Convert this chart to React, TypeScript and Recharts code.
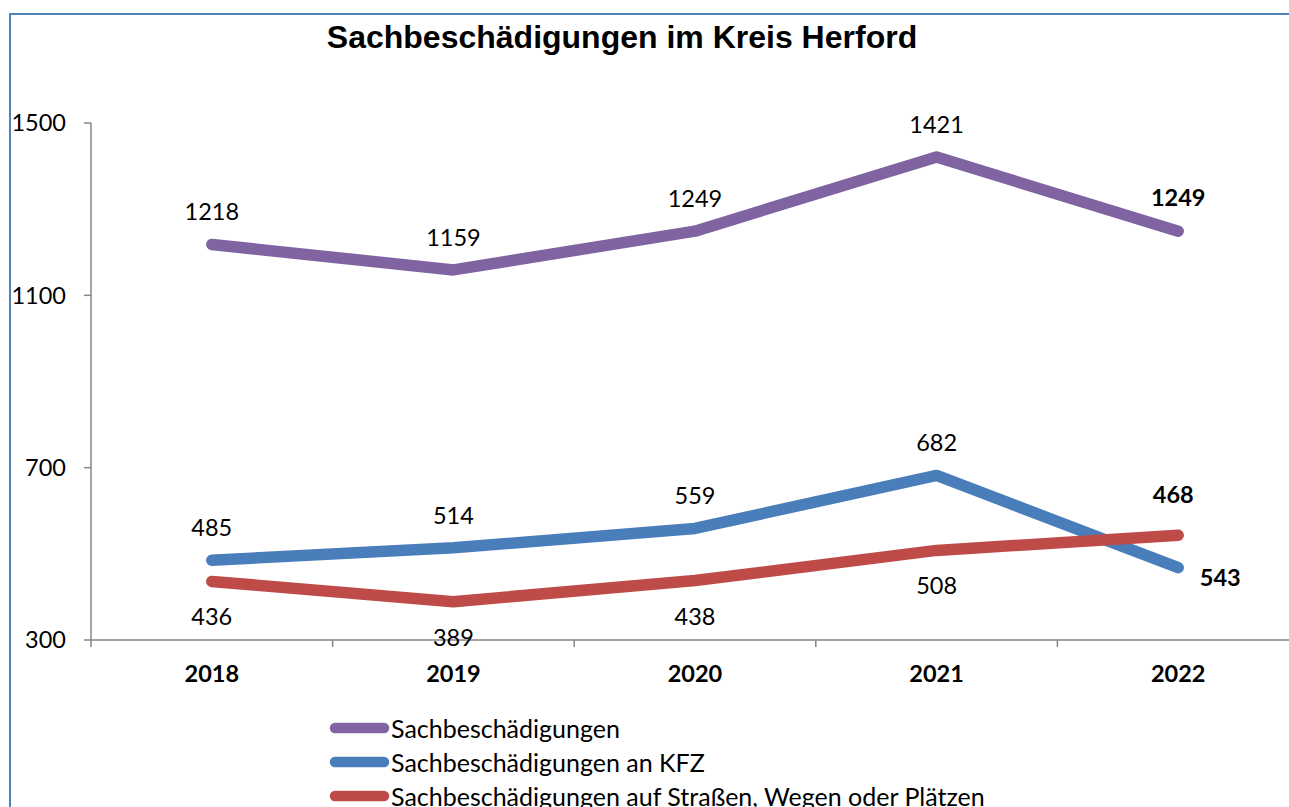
import React from 'react';
import { LineChart, Line, XAxis, YAxis, LabelList, Legend } from 'recharts';

const years = ['2018', '2019', '2020', '2021', '2022'];
const sachbeschaedigungen = [1218, 1159, 1249, 1421, 1249];
const anKfz = [485, 514, 559, 682, 468];
const aufStrassen = [436, 389, 438, 508, 543];
// data label texts as printed in the source chart
const labelsSach = ['1218', '1159', '1249', '1421', '1249'];
const labelsKfz = ['485', '514', '559', '682', '543'];
const labelsStr = ['436', '389', '438', '508', '468'];
const yTicks = [300, 700, 1100, 1500];

const seriesNames = [
  'Sachbeschädigungen',
  'Sachbeschädigungen an KFZ',
  'Sachbeschädigungen auf Straßen, Wegen oder Plätzen',
];

const data = years.map((y, i) => ({
  year: y,
  sach: sachbeschaedigungen[i],
  kfz: anKfz[i],
  str: aufStrassen[i],
}));

const CHART_W = 1320;
const CHART_H = 807;
const MARGIN = { top: 123, right: 21, bottom: 127, left: 0 };
const Y_W = 91;
const BAND = (CHART_W - MARGIN.left - MARGIN.right - Y_W) / years.length;
const FONT = 'Lato, "Open Sans", sans-serif';
const AXIS_COLOR = '#868686';
const LINE_W = 11.5;

const makeLabel = (texts: string[], dy: number, lastDx: number, lastDy: number) => (props: any) => {
  const { x, y, index } = props;
  const last = index === texts.length - 1;
  return (
    <text
      x={x + (last ? lastDx : 0)}
      y={y + (last ? lastDy : dy)}
      textAnchor="middle"
      dominantBaseline="central"
      fontFamily={FONT}
      fontSize={23.5}
      fontWeight={last ? 700 : 400}
      fill="#000"
    >
      {texts[index]}
    </text>
  );
};

const XTick = (props: any) => {
  const { x, payload, index } = props;
  const axisY = CHART_H - MARGIN.bottom - 40;
  return (
    <g>
      <line x1={x - BAND / 2} x2={x - BAND / 2} y1={axisY} y2={axisY + 7} stroke={AXIS_COLOR} strokeWidth={1.5} />
      {index === years.length - 1 && (
        <line x1={x + BAND / 2} x2={x + BAND / 2} y1={axisY} y2={axisY + 7} stroke={AXIS_COLOR} strokeWidth={1.5} />
      )}
      <text
        x={x}
        y={axisY + 33}
        textAnchor="middle"
        dominantBaseline="central"
        fontFamily={FONT}
        fontSize={23.5}
        fontWeight={700}
        fill="#000"
      >
        {payload.value}
      </text>
    </g>
  );
};

const LegendContent = (props: any) => {
  const { payload } = props;
  return (
    <div style={{ fontFamily: FONT, fontSize: 25, color: '#000' }}>
      {payload.map((p: any, i: number) => (
        <div key={i} style={{ display: 'flex', alignItems: 'center', height: 34, lineHeight: '34px', whiteSpace: 'nowrap' }}>
          <svg width={62} height={14} style={{ display: 'block' }}>
            <line x1={6} x2={55} y1={7} y2={7} stroke={p.color} strokeWidth={10.5} strokeLinecap="round" />
          </svg>
          <span>{seriesNames[i]}</span>
        </div>
      ))}
    </div>
  );
};

export default function App() {
  return (
    <div style={{ position: 'absolute', left: 0, top: 0, width: 1289, height: 807, overflow: 'hidden', background: '#fff' }}>
      <div
        style={{
          position: 'absolute',
          left: 9,
          top: 13,
          width: 1400,
          height: 900,
          border: '2px solid #4F81BD',
          boxSizing: 'border-box',
        }}
      />
      <div
        style={{
          position: 'absolute',
          left: 0,
          top: 19,
          width: 1244,
          textAlign: 'center',
          fontFamily: '"Liberation Sans", Arial, sans-serif',
          fontWeight: 700,
          fontSize: 32,
          lineHeight: '37px',
          color: '#000',
          whiteSpace: 'nowrap',
        }}
      >
        Sachbeschädigungen im Kreis Herford
      </div>
      <div style={{ position: 'absolute', left: 0, top: 0 }}>
        <LineChart width={CHART_W} height={CHART_H} data={data} margin={MARGIN}>
          <XAxis
            dataKey="year"
            height={40}
            tickLine={false}
            padding={{ left: BAND / 2, right: BAND / 2 }}
            axisLine={{ stroke: AXIS_COLOR, strokeWidth: 1.5 }}
            tick={<XTick />}
            interval={0}
          />
          <YAxis
            width={Y_W}
            domain={[300, 1500]}
            ticks={yTicks}
            interval={0}
            tickSize={7}
            tickMargin={18}
            axisLine={{ stroke: AXIS_COLOR, strokeWidth: 1.5 }}
            tickLine={{ stroke: AXIS_COLOR, strokeWidth: 1.5 }}
            tick={{ fill: '#000', fontFamily: FONT, fontSize: 23.5 }}
          />
          <Legend
            layout="vertical"
            align="center"
            verticalAlign="middle"
            wrapperStyle={{ top: 711, left: 329, width: 900 }}
            content={<LegendContent />}
          />
          <Line
            type="linear"
            dataKey="sach"
            name={seriesNames[0]}
            stroke="#8064A2"
            strokeWidth={LINE_W}
            strokeLinecap="round"
            strokeLinejoin="round"
            dot={false}
            isAnimationActive={false}
          >
            <LabelList dataKey="sach" content={makeLabel(labelsSach, -33, 0, -34)} />
          </Line>
          <Line
            type="linear"
            dataKey="kfz"
            name={seriesNames[1]}
            stroke="#4A7EBB"
            strokeWidth={LINE_W}
            strokeLinecap="round"
            strokeLinejoin="round"
            dot={false}
            isAnimationActive={false}
          >
            <LabelList dataKey="kfz" content={makeLabel(labelsKfz, -33, 42, 9)} />
          </Line>
          <Line
            type="linear"
            dataKey="str"
            name={seriesNames[2]}
            stroke="#BE4B48"
            strokeWidth={LINE_W}
            strokeLinecap="round"
            strokeLinejoin="round"
            dot={false}
            isAnimationActive={false}
          >
            <LabelList dataKey="str" content={makeLabel(labelsStr, 35, -5, -41)} />
          </Line>
        </LineChart>
      </div>
    </div>
  );
}
